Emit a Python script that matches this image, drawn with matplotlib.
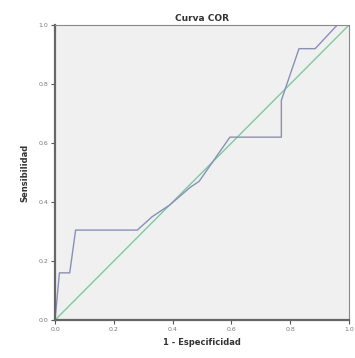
import numpy as np
import matplotlib.pyplot as plt

# ROC curve points
fpr = [0.0, 0.015, 0.05, 0.07, 0.28, 0.33, 0.39, 0.46, 0.49, 0.595, 0.77, 0.77, 0.83, 0.885, 0.96, 1.0]
tpr = [0.0, 0.16, 0.16, 0.305, 0.305, 0.35, 0.39, 0.45, 0.47, 0.62, 0.62, 0.745, 0.92, 0.92, 1.0, 1.0]
ref_line = [0.0, 1.0]
ticks = [0.0, 0.2, 0.4, 0.6, 0.8, 1.0]

fig = plt.figure(figsize=(3.55, 3.58), dpi=100)
ax = fig.add_axes([0.155, 0.106, 0.828, 0.824])
ax.set_facecolor('#f0f0f0')

# diagonal reference and the curve
ax.plot(ref_line, ref_line, color='#7ec9a0', lw=1.0)
ax.plot(fpr, tpr, color='#8a8fb8', lw=1.0)

ax.set_xlim(0, 1)
ax.set_ylim(0, 1)
ax.set_xticks(ticks)
ax.set_yticks(ticks)
ax.set_xticklabels(['%.1f' % t for t in ticks])
ax.set_yticklabels(['%.1f' % t for t in ticks])
ax.tick_params(labelsize=4.5, labelcolor='#777777', length=3, width=0.8, color='#555555', pad=2)

for side in ['left', 'bottom']:
    ax.spines[side].set_color('#666666')
    ax.spines[side].set_linewidth(1.6)
for side in ['top', 'right']:
    ax.spines[side].set_color('#888888')
    ax.spines[side].set_linewidth(0.8)

ax.set_title('Curva COR', fontsize=6.5, fontweight='bold', color='#333333', pad=3)
ax.set_xlabel('1 - Especificidad', fontsize=6, fontweight='bold', color='#333333', labelpad=4)
ax.set_ylabel('Sensibilidad', fontsize=6, fontweight='bold', color='#333333', labelpad=6)

fig.savefig('out.png', dpi=100)
